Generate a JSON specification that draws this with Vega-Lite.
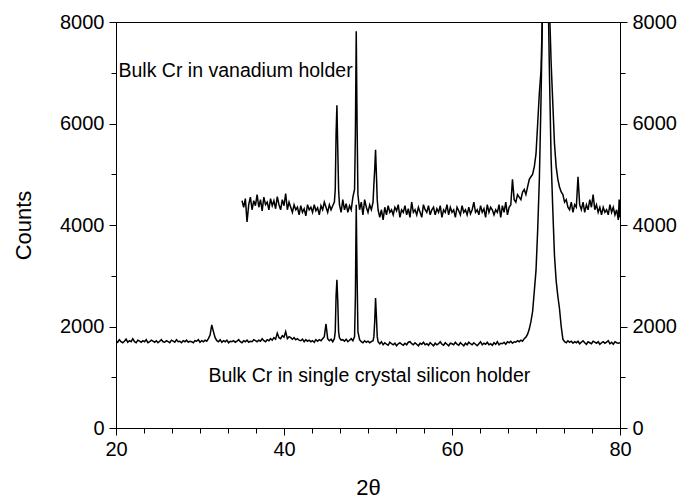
{
"$schema":"https://vega.github.io/schema/vega-lite/v6.json",
"width":504,"height":406,
"autosize":{"type":"none"},
"padding":{"left":116,"top":22,"right":62,"bottom":70},
"background":"white",
"view":{"stroke":"black","strokeWidth":1},
"config":{"font":"Liberation Sans","axis":{"domainColor":"black","tickColor":"black","labelColor":"black","titleColor":"black","labelFont":"Liberation Sans","titleFont":"Liberation Sans","labelFontSize":20,"titleFontSize":22,"titleFontWeight":"normal","grid":false,"domainWidth":1,"tickWidth":1}},
"datasets":{
"si":[
{"t":20.0,"c":1720},{"t":20.2,"c":1690},{"t":20.4,"c":1740},{"t":20.6,"c":1700},{"t":20.8,"c":1680},
{"t":21.0,"c":1710},{"t":21.2,"c":1750},{"t":21.4,"c":1690},{"t":21.6,"c":1720},{"t":21.8,"c":1700},
{"t":22.0,"c":1760},{"t":22.2,"c":1700},{"t":22.4,"c":1680},{"t":22.6,"c":1730},{"t":22.8,"c":1710},
{"t":23.0,"c":1690},{"t":23.2,"c":1720},{"t":23.4,"c":1700},{"t":23.6,"c":1740},{"t":23.8,"c":1680},
{"t":24.0,"c":1700},{"t":24.2,"c":1730},{"t":24.4,"c":1710},{"t":24.6,"c":1690},{"t":24.8,"c":1720},
{"t":25.0,"c":1680},{"t":25.2,"c":1710},{"t":25.4,"c":1740},{"t":25.6,"c":1700},{"t":25.8,"c":1690},
{"t":26.0,"c":1720},{"t":26.2,"c":1700},{"t":26.4,"c":1680},{"t":26.6,"c":1730},{"t":26.8,"c":1710},
{"t":27.0,"c":1690},{"t":27.2,"c":1740},{"t":27.4,"c":1700},{"t":27.6,"c":1710},{"t":27.8,"c":1680},
{"t":28.0,"c":1720},{"t":28.2,"c":1700},{"t":28.4,"c":1730},{"t":28.6,"c":1690},{"t":28.8,"c":1710},
{"t":29.0,"c":1700},{"t":29.2,"c":1680},{"t":29.4,"c":1720},{"t":29.6,"c":1710},{"t":29.8,"c":1740},
{"t":30.0,"c":1690},{"t":30.2,"c":1720},{"t":30.4,"c":1700},{"t":30.6,"c":1730},{"t":30.8,"c":1710},
{"t":31.0,"c":1760},{"t":31.2,"c":1830},{"t":31.4,"c":2030},{"t":31.6,"c":1900},{"t":31.8,"c":1780},
{"t":32.0,"c":1720},{"t":32.2,"c":1700},{"t":32.4,"c":1740},{"t":32.6,"c":1690},{"t":32.8,"c":1720},
{"t":33.0,"c":1700},{"t":33.2,"c":1730},{"t":33.4,"c":1680},{"t":33.6,"c":1710},{"t":33.8,"c":1700},
{"t":34.0,"c":1720},{"t":34.2,"c":1690},{"t":34.4,"c":1710},{"t":34.6,"c":1740},{"t":34.8,"c":1700},
{"t":35.0,"c":1680},{"t":35.2,"c":1720},{"t":35.4,"c":1700},{"t":35.6,"c":1730},{"t":35.8,"c":1690},
{"t":36.0,"c":1710},{"t":36.2,"c":1700},{"t":36.4,"c":1740},{"t":36.6,"c":1720},{"t":36.8,"c":1700},
{"t":37.0,"c":1730},{"t":37.2,"c":1710},{"t":37.4,"c":1760},{"t":37.6,"c":1720},{"t":37.8,"c":1700},
{"t":38.0,"c":1740},{"t":38.2,"c":1720},{"t":38.4,"c":1760},{"t":38.6,"c":1730},{"t":38.8,"c":1780},
{"t":39.0,"c":1750},{"t":39.2,"c":1870},{"t":39.4,"c":1780},{"t":39.6,"c":1760},{"t":39.8,"c":1820},
{"t":40.0,"c":1790},{"t":40.2,"c":1900},{"t":40.4,"c":1760},{"t":40.6,"c":1800},{"t":40.8,"c":1780},
{"t":41.0,"c":1750},{"t":41.2,"c":1780},{"t":41.4,"c":1740},{"t":41.6,"c":1760},{"t":41.8,"c":1730},
{"t":42.0,"c":1720},{"t":42.2,"c":1750},{"t":42.4,"c":1700},{"t":42.6,"c":1740},{"t":42.8,"c":1710},
{"t":43.0,"c":1730},{"t":43.2,"c":1700},{"t":43.4,"c":1720},{"t":43.6,"c":1690},{"t":43.8,"c":1740},
{"t":44.0,"c":1710},{"t":44.2,"c":1740},{"t":44.4,"c":1720},{"t":44.6,"c":1760},{"t":44.8,"c":1800},
{"t":45.0,"c":2050},{"t":45.2,"c":1760},{"t":45.4,"c":1720},{"t":45.6,"c":1750},{"t":45.8,"c":1700},
{"t":46.0,"c":1760},{"t":46.1,"c":1900},{"t":46.2,"c":2600},{"t":46.3,"c":2920},{"t":46.4,"c":2500},{"t":46.5,"c":1900},{"t":46.6,"c":1780},{"t":46.8,"c":1730},
{"t":47.0,"c":1740},{"t":47.2,"c":1710},{"t":47.4,"c":1750},{"t":47.6,"c":1700},{"t":47.8,"c":1730},
{"t":48.0,"c":1760},{"t":48.2,"c":1720},{"t":48.4,"c":1800},{"t":48.5,"c":2600},{"t":48.6,"c":4400},{"t":48.7,"c":3000},{"t":48.8,"c":1900},
{"t":49.0,"c":1740},{"t":49.2,"c":1700},{"t":49.4,"c":1680},{"t":49.6,"c":1720},{"t":49.8,"c":1690},
{"t":50.0,"c":1710},{"t":50.2,"c":1680},{"t":50.4,"c":1700},{"t":50.6,"c":1720},{"t":50.7,"c":1800},{"t":50.8,"c":2100},{"t":50.9,"c":2560},{"t":51.0,"c":2200},{"t":51.1,"c":1800},{"t":51.2,"c":1700},
{"t":51.4,"c":1660},{"t":51.6,"c":1700},{"t":51.8,"c":1640},
{"t":52.0,"c":1680},{"t":52.2,"c":1650},{"t":52.4,"c":1630},{"t":52.6,"c":1690},{"t":52.8,"c":1660},
{"t":53.0,"c":1640},{"t":53.2,"c":1670},{"t":53.4,"c":1620},{"t":53.6,"c":1660},{"t":53.8,"c":1680},
{"t":54.0,"c":1650},{"t":54.2,"c":1630},{"t":54.4,"c":1670},{"t":54.6,"c":1640},{"t":54.8,"c":1690},
{"t":55.0,"c":1700},{"t":55.2,"c":1660},{"t":55.4,"c":1640},{"t":55.6,"c":1680},{"t":55.8,"c":1650},
{"t":56.0,"c":1620},{"t":56.2,"c":1670},{"t":56.4,"c":1650},{"t":56.6,"c":1690},{"t":56.8,"c":1640},
{"t":57.0,"c":1660},{"t":57.2,"c":1630},{"t":57.4,"c":1680},{"t":57.6,"c":1650},{"t":57.8,"c":1620},
{"t":58.0,"c":1670},{"t":58.2,"c":1640},{"t":58.4,"c":1660},{"t":58.6,"c":1700},{"t":58.8,"c":1650},
{"t":59.0,"c":1630},{"t":59.2,"c":1680},{"t":59.4,"c":1650},{"t":59.6,"c":1620},{"t":59.8,"c":1670},
{"t":60.0,"c":1660},{"t":60.2,"c":1640},{"t":60.4,"c":1690},{"t":60.6,"c":1650},{"t":60.8,"c":1630},
{"t":61.0,"c":1680},{"t":61.2,"c":1650},{"t":61.4,"c":1620},{"t":61.6,"c":1670},{"t":61.8,"c":1640},
{"t":62.0,"c":1690},{"t":62.2,"c":1660},{"t":62.4,"c":1640},{"t":62.6,"c":1680},{"t":62.8,"c":1650},
{"t":63.0,"c":1620},{"t":63.2,"c":1660},{"t":63.4,"c":1700},{"t":63.6,"c":1640},{"t":63.8,"c":1670},
{"t":64.0,"c":1650},{"t":64.2,"c":1690},{"t":64.4,"c":1640},{"t":64.6,"c":1660},{"t":64.8,"c":1630},
{"t":65.0,"c":1680},{"t":65.2,"c":1650},{"t":65.4,"c":1700},{"t":65.6,"c":1640},{"t":65.8,"c":1670},
{"t":66.0,"c":1660},{"t":66.2,"c":1690},{"t":66.4,"c":1650},{"t":66.6,"c":1700},{"t":66.8,"c":1680},
{"t":67.0,"c":1710},{"t":67.2,"c":1670},{"t":67.4,"c":1700},{"t":67.6,"c":1690},{"t":67.8,"c":1720},
{"t":68.0,"c":1700},{"t":68.2,"c":1730},{"t":68.4,"c":1710},{"t":68.6,"c":1760},{"t":68.8,"c":1790},
{"t":69.0,"c":1850},{"t":69.2,"c":1950},{"t":69.4,"c":2100},{"t":69.6,"c":2300},{"t":69.8,"c":2700},
{"t":70.0,"c":3100},{"t":70.2,"c":3900},{"t":70.4,"c":4900},{"t":70.6,"c":6500},{"t":70.8,"c":8500},
{"t":71.0,"c":10000},{"t":71.2,"c":10500},{"t":71.4,"c":9000},{"t":71.6,"c":7000},{"t":71.8,"c":5300},
{"t":72.0,"c":4300},{"t":72.2,"c":3400},{"t":72.4,"c":2900},{"t":72.6,"c":2600},{"t":72.8,"c":2350},
{"t":73.0,"c":2000},{"t":73.2,"c":1750},{"t":73.4,"c":1700},{"t":73.6,"c":1680},{"t":73.8,"c":1720},
{"t":74.0,"c":1690},{"t":74.2,"c":1710},{"t":74.4,"c":1670},{"t":74.6,"c":1700},{"t":74.8,"c":1680},
{"t":75.0,"c":1710},{"t":75.2,"c":1660},{"t":75.4,"c":1690},{"t":75.6,"c":1720},{"t":75.8,"c":1680},
{"t":76.0,"c":1650},{"t":76.2,"c":1700},{"t":76.4,"c":1680},{"t":76.6,"c":1660},{"t":76.8,"c":1710},
{"t":77.0,"c":1690},{"t":77.2,"c":1670},{"t":77.4,"c":1700},{"t":77.6,"c":1650},{"t":77.8,"c":1680},
{"t":78.0,"c":1700},{"t":78.2,"c":1670},{"t":78.4,"c":1690},{"t":78.6,"c":1720},{"t":78.8,"c":1660},
{"t":79.0,"c":1690},{"t":79.2,"c":1650},{"t":79.4,"c":1700},{"t":79.6,"c":1680},{"t":79.8,"c":1670},
{"t":80.0,"c":1680}
],
"v":[
{"t":35.0,"c":4480},{"t":35.2,"c":4350},{"t":35.4,"c":4520},{"t":35.6,"c":4060},{"t":35.8,"c":4400},
{"t":36.0,"c":4550},{"t":36.2,"c":4300},{"t":36.4,"c":4480},{"t":36.6,"c":4380},{"t":36.8,"c":4600},
{"t":37.0,"c":4350},{"t":37.2,"c":4500},{"t":37.4,"c":4280},{"t":37.6,"c":4550},{"t":37.8,"c":4400},
{"t":38.0,"c":4450},{"t":38.2,"c":4300},{"t":38.4,"c":4520},{"t":38.6,"c":4380},{"t":38.8,"c":4480},
{"t":39.0,"c":4320},{"t":39.2,"c":4560},{"t":39.4,"c":4400},{"t":39.6,"c":4300},{"t":39.8,"c":4500},
{"t":40.0,"c":4380},{"t":40.2,"c":4620},{"t":40.4,"c":4300},{"t":40.6,"c":4450},{"t":40.8,"c":4350},
{"t":41.0,"c":4250},{"t":41.2,"c":4400},{"t":41.4,"c":4300},{"t":41.6,"c":4350},{"t":41.8,"c":4200},
{"t":42.0,"c":4380},{"t":42.2,"c":4250},{"t":42.4,"c":4320},{"t":42.6,"c":4180},{"t":42.8,"c":4400},
{"t":43.0,"c":4300},{"t":43.2,"c":4350},{"t":43.4,"c":4250},{"t":43.6,"c":4400},{"t":43.8,"c":4280},
{"t":44.0,"c":4340},{"t":44.2,"c":4200},{"t":44.4,"c":4380},{"t":44.6,"c":4300},{"t":44.8,"c":4450},
{"t":45.0,"c":4350},{"t":45.2,"c":4250},{"t":45.4,"c":4400},{"t":45.6,"c":4300},{"t":45.8,"c":4380},
{"t":46.0,"c":4450},{"t":46.1,"c":4700},{"t":46.2,"c":5800},{"t":46.3,"c":6360},{"t":46.4,"c":5500},{"t":46.5,"c":4700},{"t":46.6,"c":4400},{"t":46.8,"c":4250},
{"t":47.0,"c":4500},{"t":47.2,"c":4300},{"t":47.4,"c":4420},{"t":47.6,"c":4250},{"t":47.8,"c":4380},
{"t":48.0,"c":4300},{"t":48.2,"c":4550},{"t":48.4,"c":4700},{"t":48.5,"c":5800},{"t":48.6,"c":7820},{"t":48.7,"c":6000},{"t":48.8,"c":4600},
{"t":49.0,"c":4300},{"t":49.2,"c":4450},{"t":49.4,"c":4200},{"t":49.6,"c":4500},{"t":49.8,"c":4350},
{"t":50.0,"c":4250},{"t":50.2,"c":4400},{"t":50.4,"c":4300},{"t":50.6,"c":4450},{"t":50.7,"c":4800},{"t":50.8,"c":5100},{"t":50.9,"c":5480},{"t":51.0,"c":5000},{"t":51.1,"c":4500},{"t":51.2,"c":4300},
{"t":51.4,"c":4150},{"t":51.6,"c":4300},{"t":51.8,"c":4100},
{"t":52.0,"c":4350},{"t":52.2,"c":4200},{"t":52.4,"c":4380},{"t":52.6,"c":4250},{"t":52.8,"c":4300},
{"t":53.0,"c":4200},{"t":53.2,"c":4350},{"t":53.4,"c":4280},{"t":53.6,"c":4400},{"t":53.8,"c":4150},
{"t":54.0,"c":4300},{"t":54.2,"c":4250},{"t":54.4,"c":4380},{"t":54.6,"c":4200},{"t":54.8,"c":4320},
{"t":55.0,"c":4150},{"t":55.2,"c":4450},{"t":55.4,"c":4250},{"t":55.6,"c":4300},{"t":55.8,"c":4200},
{"t":56.0,"c":4350},{"t":56.2,"c":4250},{"t":56.4,"c":4150},{"t":56.6,"c":4400},{"t":56.8,"c":4300},
{"t":57.0,"c":4250},{"t":57.2,"c":4380},{"t":57.4,"c":4200},{"t":57.6,"c":4300},{"t":57.8,"c":4350},
{"t":58.0,"c":4200},{"t":58.2,"c":4320},{"t":58.4,"c":4250},{"t":58.6,"c":4380},{"t":58.8,"c":4150},
{"t":59.0,"c":4300},{"t":59.2,"c":4250},{"t":59.4,"c":4400},{"t":59.6,"c":4200},{"t":59.8,"c":4350},
{"t":60.0,"c":4250},{"t":60.2,"c":4300},{"t":60.4,"c":4150},{"t":60.6,"c":4350},{"t":60.8,"c":4280},
{"t":61.0,"c":4200},{"t":61.2,"c":4380},{"t":61.4,"c":4250},{"t":61.6,"c":4300},{"t":61.8,"c":4200},
{"t":62.0,"c":4350},{"t":62.2,"c":4220},{"t":62.4,"c":4300},{"t":62.6,"c":4450},{"t":62.8,"c":4250},
{"t":63.0,"c":4300},{"t":63.2,"c":4200},{"t":63.4,"c":4380},{"t":63.6,"c":4250},{"t":63.8,"c":4320},
{"t":64.0,"c":4150},{"t":64.2,"c":4400},{"t":64.4,"c":4250},{"t":64.6,"c":4350},{"t":64.8,"c":4300},
{"t":65.0,"c":4200},{"t":65.2,"c":4300},{"t":65.4,"c":4250},{"t":65.6,"c":4400},{"t":65.8,"c":4150},
{"t":66.0,"c":4380},{"t":66.2,"c":4250},{"t":66.4,"c":4450},{"t":66.6,"c":4200},{"t":66.8,"c":4350},
{"t":67.0,"c":4400},{"t":67.2,"c":4900},{"t":67.4,"c":4500},{"t":67.6,"c":4450},{"t":67.8,"c":4600},
{"t":68.0,"c":4550},{"t":68.2,"c":4500},{"t":68.4,"c":4650},{"t":68.6,"c":4700},{"t":68.8,"c":4600},
{"t":69.0,"c":4750},{"t":69.2,"c":4900},{"t":69.4,"c":4950},{"t":69.6,"c":5000},{"t":69.8,"c":5150},
{"t":70.0,"c":5400},{"t":70.2,"c":6000},{"t":70.4,"c":6600},{"t":70.6,"c":7050},{"t":70.8,"c":8400},
{"t":71.0,"c":10000},{"t":71.2,"c":11000},{"t":71.4,"c":10000},{"t":71.6,"c":8300},{"t":71.8,"c":7200},
{"t":72.0,"c":6400},{"t":72.2,"c":5600},{"t":72.4,"c":5150},{"t":72.6,"c":4900},{"t":72.8,"c":4750},
{"t":73.0,"c":4650},{"t":73.2,"c":4600},{"t":73.4,"c":4450},{"t":73.6,"c":4500},{"t":73.8,"c":4350},
{"t":74.0,"c":4300},{"t":74.2,"c":4450},{"t":74.4,"c":4250},{"t":74.6,"c":4400},{"t":74.8,"c":4350},
{"t":75.0,"c":4950},{"t":75.2,"c":4400},{"t":75.4,"c":4300},{"t":75.6,"c":4450},{"t":75.8,"c":4250},
{"t":76.0,"c":4400},{"t":76.2,"c":4300},{"t":76.4,"c":4500},{"t":76.6,"c":4350},{"t":76.8,"c":4600},
{"t":77.0,"c":4300},{"t":77.2,"c":4400},{"t":77.4,"c":4250},{"t":77.6,"c":4350},{"t":77.8,"c":4200},
{"t":78.0,"c":4350},{"t":78.2,"c":4250},{"t":78.4,"c":4300},{"t":78.6,"c":4200},{"t":78.8,"c":4400},
{"t":79.0,"c":4250},{"t":79.2,"c":4350},{"t":79.4,"c":4200},{"t":79.6,"c":4300},{"t":79.8,"c":4100},{"t":79.9,"c":4500},{"t":80.0,"c":4150}
],
"labels":[
{"t":20.3,"c":6920,"label":"Bulk Cr in vanadium holder"},
{"t":31.0,"c":912,"label":"Bulk Cr in single crystal silicon holder"}
]
},
"layer":[
{"data":{"name":"si"},"mark":{"type":"line","color":"black","strokeWidth":1.5,"clip":true},
"encoding":{
"x":{"field":"t","type":"quantitative","scale":{"domain":[20,80],"nice":false,"zero":false},
"axis":{"orient":"bottom","values":[20,23.3333,26.6667,30,33.3333,36.6667,40,43.3333,46.6667,50,53.3333,56.6667,60,63.3333,66.6667,70,73.3333,76.6667,80],
"labelExpr":"abs(datum.value % 20) < 0.01 ? format(datum.value, 'd') : ''","tickSize":{"condition":{"test":"abs(datum.value % 20) < 0.01","value":7},"value":5},"labelPadding":4,"labelFlush":false,"title":"2θ","titlePadding":18}},
"y":{"field":"c","type":"quantitative","scale":{"domain":[0,8000],"nice":false},
"axis":{"orient":"left","values":[0,1000,2000,3000,4000,5000,6000,7000,8000],
"labelExpr":"datum.value % 2000 === 0 ? format(datum.value, 'd') : ''","tickSize":{"condition":{"test":"datum.value % 2000 === 0","value":7},"value":5},"labelPadding":5,"title":"Counts","titlePadding":24}}
}},
{"data":{"name":"v"},"mark":{"type":"line","color":"black","strokeWidth":1.5,"clip":true},
"encoding":{
"x":{"field":"t","type":"quantitative","axis":null},
"y":{"field":"c","type":"quantitative",
"axis":{"orient":"right","values":[0,1000,2000,3000,4000,5000,6000,7000,8000],
"labelExpr":"datum.value % 2000 === 0 ? format(datum.value, 'd') : ''","tickSize":{"condition":{"test":"datum.value % 2000 === 0","value":7},"value":5},"labelPadding":5,"title":null}}
}},
{"data":{"name":"labels"},"mark":{"type":"text","align":"left","baseline":"alphabetic","font":"Liberation Sans","fontSize":19.5,"color":"black"},
"encoding":{
"x":{"field":"t","type":"quantitative","axis":null},
"y":{"field":"c","type":"quantitative","axis":null},
"text":{"field":"label"}
}}
],
"resolve":{"axis":{"y":"independent","x":"independent"}}
}
